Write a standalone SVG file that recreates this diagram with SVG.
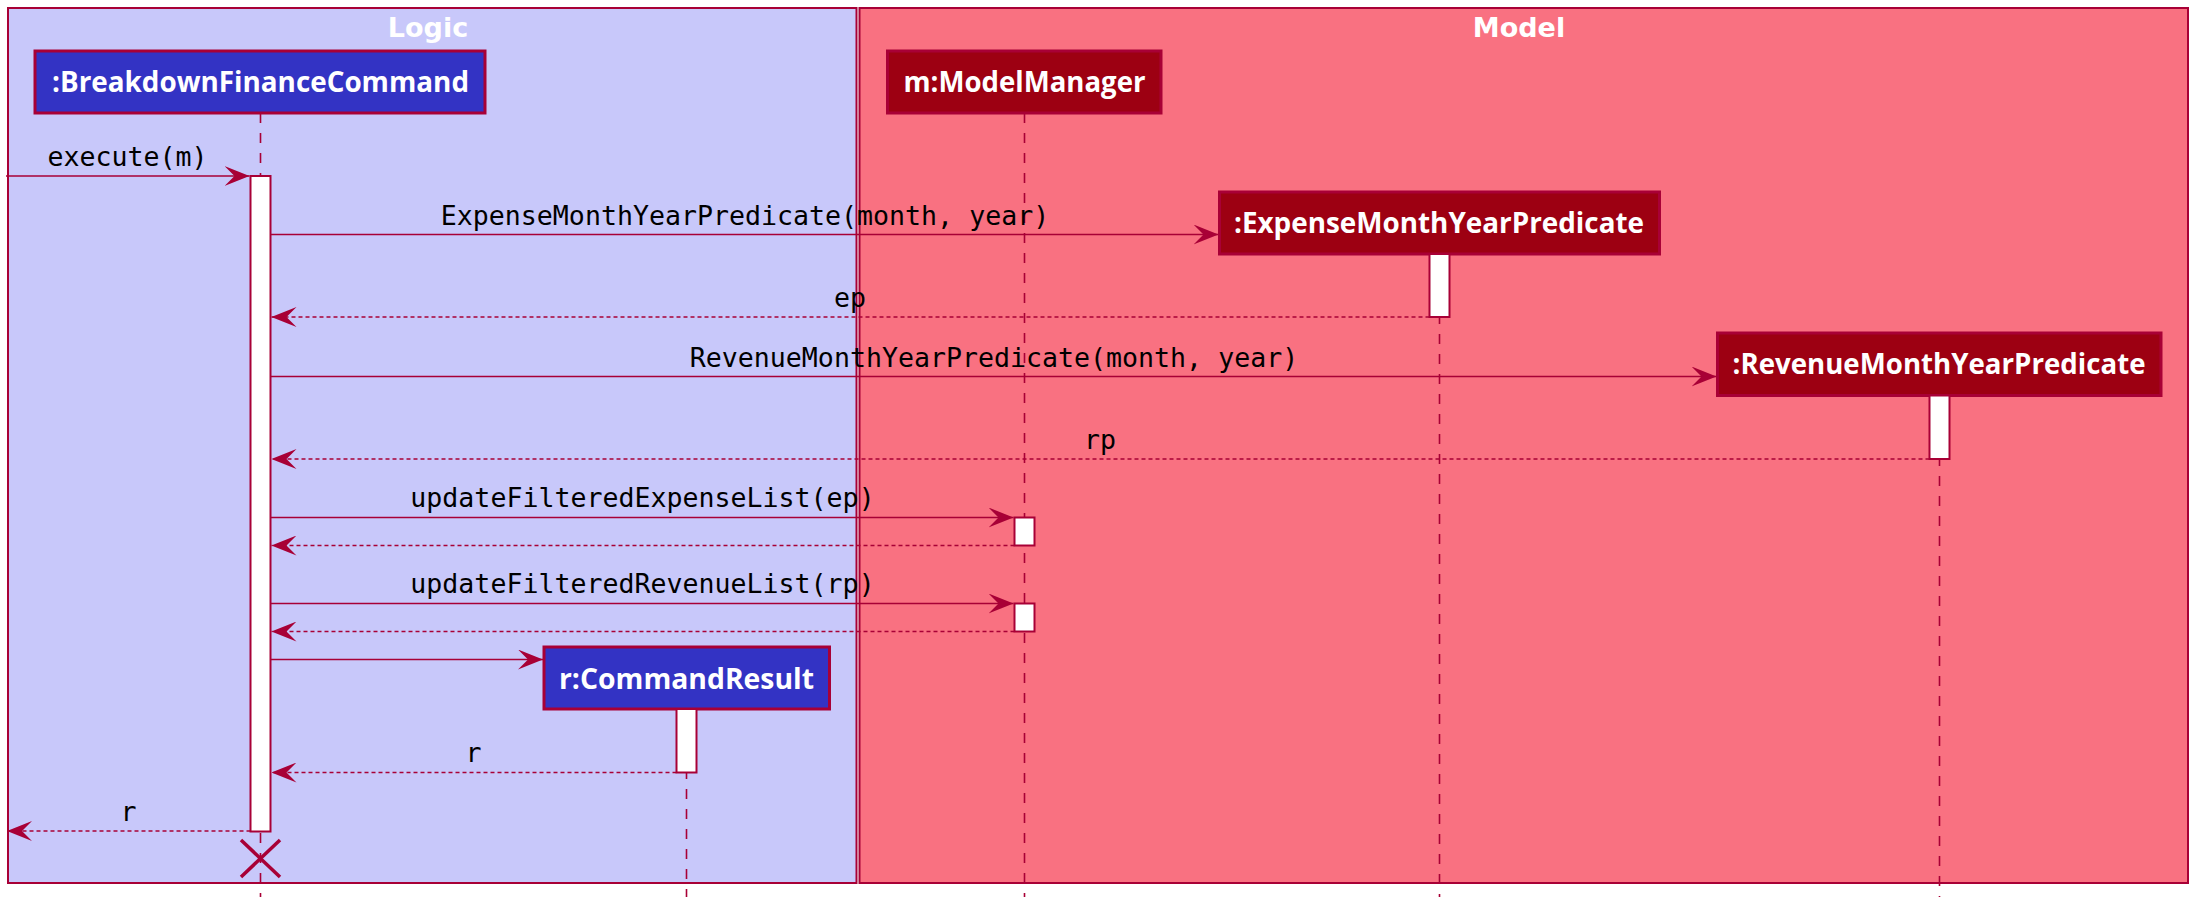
<svg xmlns="http://www.w3.org/2000/svg" width="2208" height="917" viewBox="0 0 2208 917">
<style>
.grp{stroke:#A80036;stroke-width:2}
.ttl{font-family:"DejaVu Sans",sans-serif;font-weight:bold;font-size:27px;fill:#FFFFFF;text-anchor:middle}
.pbox{stroke:#A80036;stroke-width:3}
.pname{font-family:"Open Sans","DejaVu Sans",sans-serif;font-weight:bold;font-size:29px;fill:#FFFFFF;text-anchor:middle}
.life{stroke:#A80036;stroke-width:1.6;stroke-dasharray:10,10;fill:none}
.act{fill:#FFFFFF;stroke:#A80036;stroke-width:2}
.msg{stroke:#A80036;stroke-width:1.6;fill:none;marker-end:url(#ah)}
.ret{stroke:#A80036;stroke-width:1.6;fill:none;stroke-dasharray:4,3;marker-end:url(#ah)}
.lbl{font-family:"DejaVu Sans Mono",monospace;font-size:26.6px;fill:#000000;text-anchor:middle}
</style>
<defs>
<marker id="ah" viewBox="-25 -10 25 20" refX="0" refY="0" markerWidth="25" markerHeight="20" markerUnits="userSpaceOnUse" orient="auto">
<path d="M-25,-10 L0,0 L-25,10 L-15,0 Z" fill="#A80036"/>
</marker>
</defs>
<rect x="0" y="0" width="2208" height="917" fill="#FFFFFF"/>
<g id="box-logic">
<rect class="grp" x="8" y="8" width="848.5" height="875" fill="#C8C8FA"/>
<text class="ttl" x="428" y="37">Logic</text>
</g>
<g id="box-model">
<rect class="grp" x="859.5" y="8" width="1328.5" height="875" fill="#F97181"/>
<text class="ttl" x="1519" y="37">Model</text>
</g>
<g id="lifelines">
<line class="life" x1="260.5" y1="113" x2="260.5" y2="897"/>
<line class="life" x1="1024.5" y1="113" x2="1024.5" y2="897"/>
<line class="life" x1="1439.5" y1="254" x2="1439.5" y2="897"/>
<line class="life" x1="1939.5" y1="396" x2="1939.5" y2="897"/>
<line class="life" x1="686.5" y1="709" x2="686.5" y2="897"/>
</g>
<g id="p-breakdown">
<rect class="pbox" x="35" y="51" width="450" height="62" fill="#3333C4"/>
<text class="pname" x="260.5" y="92" textLength="417" lengthAdjust="spacingAndGlyphs">:BreakdownFinanceCommand</text>
<rect class="act" x="250.5" y="176" width="20" height="655.5"/>
</g>
<g id="p-modelmanager">
<rect class="pbox" x="887.5" y="51" width="273.5" height="62" fill="#9D0012"/>
<text class="pname" x="1024.5" y="92" textLength="242" lengthAdjust="spacingAndGlyphs">m:ModelManager</text>
<rect class="act" x="1014.5" y="517.5" width="20" height="28"/>
<rect class="act" x="1014.5" y="603.5" width="20" height="28"/>
</g>
<g id="p-expensepred">
<rect class="pbox" x="1219.5" y="192" width="440" height="62" fill="#9D0012"/>
<text class="pname" x="1439" y="233" textLength="410" lengthAdjust="spacingAndGlyphs">:ExpenseMonthYearPredicate</text>
<rect class="act" x="1429.5" y="254" width="20" height="63"/>
</g>
<g id="p-revenuepred">
<rect class="pbox" x="1717.5" y="333" width="443.5" height="62.5" fill="#9D0012"/>
<text class="pname" x="1939" y="374" textLength="413" lengthAdjust="spacingAndGlyphs">:RevenueMonthYearPredicate</text>
<rect class="act" x="1929.5" y="395.5" width="20" height="63.5"/>
</g>
<g id="p-commandresult">
<rect class="pbox" x="544" y="647" width="285.5" height="62" fill="#3333C4"/>
<text class="pname" x="686.5" y="688.5" textLength="255" lengthAdjust="spacingAndGlyphs">r:CommandResult</text>
<rect class="act" x="676.5" y="709" width="20" height="63.5"/>
</g>
<g id="connectors">
<line class="msg" x1="6" y1="176" x2="249.5" y2="176"/>
<text class="lbl" x="127.5" y="166">execute(m)</text>
<line class="msg" x1="270.5" y1="234.5" x2="1218.5" y2="234.5"/>
<text class="lbl" x="745" y="225">ExpenseMonthYearPredicate(month, year)</text>
<line class="ret" x1="1429.5" y1="317" x2="271.5" y2="317"/>
<text class="lbl" x="850" y="307">ep</text>
<line class="msg" x1="270.5" y1="376.5" x2="1716.5" y2="376.5"/>
<text class="lbl" x="994" y="367">RevenueMonthYearPredicate(month, year)</text>
<line class="ret" x1="1929.5" y1="459" x2="271.5" y2="459"/>
<text class="lbl" x="1100" y="449">rp</text>
<line class="msg" x1="270.5" y1="517.5" x2="1013.5" y2="517.5"/>
<text class="lbl" x="642.5" y="507">updateFilteredExpenseList(ep)</text>
<line class="ret" x1="1014.5" y1="545.5" x2="271.5" y2="545.5"/>
<line class="msg" x1="270.5" y1="603.5" x2="1013.5" y2="603.5"/>
<text class="lbl" x="642.5" y="593">updateFilteredRevenueList(rp)</text>
<line class="ret" x1="1014.5" y1="631.5" x2="271.5" y2="631.5"/>
<line class="msg" x1="270.5" y1="659.5" x2="543" y2="659.5"/>
<line class="ret" x1="676.5" y1="772.5" x2="271.5" y2="772.5"/>
<text class="lbl" x="473.5" y="762">r</text>
<line class="ret" x1="250.5" y1="831" x2="7" y2="831"/>
<text class="lbl" x="128.5" y="821">r</text>
<path d="M241,840 L280,877 M280,840 L241,877" stroke="#A80036" stroke-width="3.5" fill="none"/>
</g>
</svg>
